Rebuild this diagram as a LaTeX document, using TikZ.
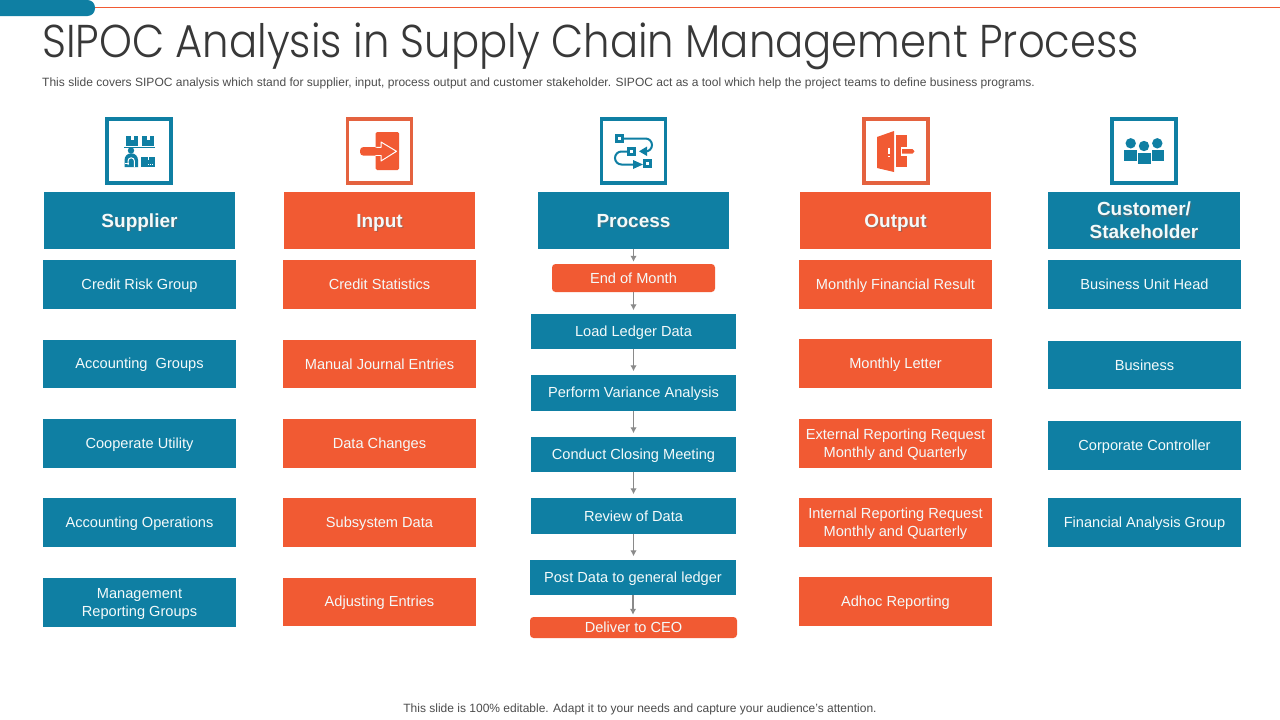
\documentclass[tikz,border=0pt]{standalone}
\usepackage{fontspec}
\setmainfont{Liberation Sans}
\newfontfamily\titlefont[FakeStretch=0.908]{Poppins Light}
\usetikzlibrary{arrows.meta}
\definecolor{teal}{HTML}{0F7FA3}
\definecolor{orng}{HTML}{F15A33}
\definecolor{iconor}{HTML}{E4623F}
\definecolor{txt}{HTML}{F4FAFA}
\definecolor{conn}{HTML}{8A8A8A}
\newcommand{\tst}{\rule[-3pt]{0pt}{16pt}}
\newcommand{\hst}{\rule[-3.4pt]{0pt}{20.4pt}}
\tikzset{
 x=1pt,y=-1pt,
 tbox/.style={fill=teal,text=txt,align=center,inner sep=0pt,font=\fontsize{14.6}{18}\selectfont},
 obox/.style={fill=orng,text=txt,align=center,inner sep=0pt,font=\fontsize{14.6}{18}\selectfont},
 rbox/.style={obox,rounded corners=3.5pt},
 hd/.style={text=txt,align=center,inner sep=0pt,font=\fontsize{19}{23}\selectfont\bfseries},
 frameT/.style={draw=teal,line width=3.6pt,fill=white,minimum size=64pt,inner sep=0pt},
 frameO/.style={draw=iconor,line width=3.6pt,fill=white,minimum size=64pt,inner sep=0pt},
 link/.style={draw=conn,line width=1.5pt,shorten >=3.5pt,-{Latex[length=6pt,width=6.5pt]}},
}
% #1 style, #2 name, #3 x0, #4 y0, #5 x1, #6 y1, #7 text
\newcommand{\bx}[7]{\node[#1,minimum width=#5pt-#3pt,minimum height=#6pt-#4pt] (#2) at ({(#3+#5)/2},{(#4+#6)/2}) {\tst#7\tst};}
\newcommand{\hdr}[7]{%
 \fill[#1] (#3,#4) rectangle (#5,#6);
 \node[hd,text=black!60,opacity=.5] at ({(#3+#5)/2+1.2},{(#4+#6)/2+1.2}) {\hst#7\hst};
 \node[hd,minimum width=#5pt-#3pt,minimum height=#6pt-#4pt] (#2) at ({(#3+#5)/2},{(#4+#6)/2}) {\hst#7\hst};}
\begin{document}
\begin{tikzpicture}
\useasboundingbox (0,0) rectangle (1280,720);
% top bar
\fill[orng] (90,7) rectangle (1280,8.2);
\begin{scope}
\clip (0,0) rectangle (100,20);
\fill[teal,rounded corners=7.5pt] (-20,0) rectangle (95,16);
\end{scope}
\node[anchor=west,inner sep=0pt,text=black!78,font=\titlefont\fontsize{46}{50}\selectfont] (title) at (42,46) {SIPOC Analysis in Supply Chain Management Process};
\node[anchor=west,inner sep=0pt,text=black!70,font=\fontsize{12.03}{14}\selectfont] (sub) at (42,83) {This slide covers SIPOC analysis which stand for supplier, input, process output and customer stakeholder. SIPOC act as a tool which help the project teams to define business programs.};
\node[inner sep=0pt,text=black!70,font=\fontsize{12}{14}\selectfont] (foot) at (640,709) {This slide is 100\% editable. Adapt it to your needs and capture your audience's attention.};
% icon frames
\node[frameT] (f1) at (139,151) {};
\node[frameO] (f2) at (379.5,151) {};
\node[frameT] (f3) at (633.5,151) {};
\node[frameO] (f4) at (896,151) {};
\node[frameT] (f5) at (1144,151) {};
% icon 1 supplier
\fill[teal] (126,136) rectangle (138,146);
\fill[teal] (142,136) rectangle (154,146);
\fill[white] (130.5,136) rectangle (133.5,140);
\fill[white] (146.5,136) rectangle (149.5,140);
\draw[teal,line width=1pt] (124,147) -- (155,147);
\fill[teal] (131,150.5) circle (3.2);
\fill[teal] (124.5,167) -- (124.5,160) arc[start angle=180,end angle=360,radius=6.75] -- (138,167) -- cycle;
\draw[white,line width=1pt] (128,165) -- (128,161) arc[start angle=180,end angle=360,radius=3.2] -- (134.4,167);
\fill[white] (124.5,162.5) rectangle (129,163.3);
\fill[teal] (141,157) rectangle (155,167);
\fill[white] (147.5,157) rectangle (148.7,160);
\draw[white,line width=.8pt,dash pattern=on 1pt off 1pt] (148,164) -- (154,164);
% icon 2 input
\fill[orng,rounded corners=1.5pt] (375.7,132) rectangle (399,170);
\draw[white,line width=1pt,fill=orng,line join=round] (375,147.3) -- (381,147.3) -- (381,142) -- (396.5,151.3) -- (381,161) -- (381,155.3) -- (375,155.3);
\fill[orng,rounded corners=3.5pt] (360,147) rectangle (378,155.7);
\fill[orng] (372,147.8) rectangle (381.5,154.8);
% icon 3 process
\draw[teal,line width=2pt] (624,138.5) -- (645.5,138.5) arc[start angle=-90,end angle=90,radius=6.5] -- (644,151.5);
\draw[teal,line width=2pt] (627,151.5) -- (621.5,151.5) arc[start angle=-90,end angle=-270,radius=6.5] -- (636,164.5);
\fill[teal] (633,160) -- (643,164.5) -- (633,169) -- cycle;
\fill[teal] (639,151.3) -- (647,146.5) -- (647,156) -- cycle;
\fill[teal] (615,134) rectangle (624,143);
\fill[white] (618,136.8) rectangle (621.2,140.2);
\fill[teal] (627,147) rectangle (636,156);
\fill[white] (630,149.8) rectangle (633.2,153.2);
\fill[teal] (643,159) rectangle (652,168);
\fill[white] (646,161.8) rectangle (649.2,165.2);
% icon 4 output
\fill[orng] (877,137) -- (894,131) -- (894,172) -- (877,168) -- cycle;
\fill[orng] (896,135) rectangle (906.7,167);
\fill[white] (888.4,148) rectangle (889.6,154);
\fill[white] (888.4,155.5) rectangle (889.6,157);
\fill[white] (900.5,147) rectangle (906.7,155.5);
\fill[orng] (902,149) -- (912.5,149) -- (914.5,151.3) -- (912.5,153.7) -- (902,153.7) -- cycle;
% icon 5 customer
\fill[teal] (1130.7,143.3) circle (5.2);
\fill[teal] (1157.3,143.3) circle (5.2);
\fill[teal] (1124,150) rectangle (1136.5,161);
\fill[teal] (1152,150) rectangle (1164,161);
\fill[teal] (1144,146) circle (5.2);
\fill[teal] (1137.7,153) rectangle (1150.7,164);
% headers
\hdr{teal}{h1}{44}{192}{235}{249}{Supplier}
\hdr{orng}{h2}{284}{192}{475}{249}{Input}
\hdr{teal}{h3}{538}{192}{729}{249}{Process}
\hdr{orng}{h4}{800}{192}{991}{249}{Output}
\hdr{teal}{h5}{1048}{192}{1240}{249}{Customer/\\Stakeholder}
% supplier
\bx{tbox}{s1}{43}{260}{236}{309}{Credit Risk Group}
\bx{tbox}{s2}{43}{340}{236}{388}{Accounting~ Groups}
\bx{tbox}{s3}{43}{419}{236}{468}{Cooperate Utility}
\bx{tbox}{s4}{43}{498}{236}{547}{Accounting Operations}
\bx{tbox}{s5}{43}{578}{236}{627}{Management\\Reporting Groups}
% input
\bx{obox}{i1}{283}{260}{476}{309}{Credit Statistics}
\bx{obox}{i2}{283}{340}{476}{388}{Manual Journal Entries}
\bx{obox}{i3}{283}{419}{476}{468}{Data Changes}
\bx{obox}{i4}{283}{498}{476}{547}{Subsystem Data}
\bx{obox}{i5}{283}{578}{476}{626}{Adjusting Entries}
% process
\bx{rbox}{p0}{552}{264}{715}{292}{End of Month}
\bx{tbox}{p1}{531}{314}{736}{349}{Load Ledger Data}
\bx{tbox}{p2}{531}{375}{736}{411}{Perform Variance Analysis}
\bx{tbox}{p3}{531}{437}{736}{472}{Conduct Closing Meeting}
\bx{tbox}{p4}{531}{498}{736}{534}{Review of Data}
\bx{tbox}{p5}{530}{560}{736}{595}{Post Data to general ledger}
\bx{rbox}{p6}{530}{617}{737}{638}{Deliver to CEO}
% output
\bx{obox}{o1}{799}{260}{992}{309}{Monthly Financial Result}
\bx{obox}{o2}{799}{339}{992}{388}{Monthly Letter}
\bx{obox}{o3}{799}{419}{992}{468}{External Reporting Request\\Monthly and Quarterly}
\bx{obox}{o4}{799}{498}{992}{547}{Internal Reporting Request\\Monthly and Quarterly}
\bx{obox}{o5}{799}{577}{992}{626}{Adhoc Reporting}
% customer
\bx{tbox}{c1}{1048}{260}{1241}{309}{Business Unit Head}
\bx{tbox}{c2}{1048}{341}{1241}{389}{Business}
\bx{tbox}{c3}{1048}{421}{1241}{470}{Corporate Controller}
\bx{tbox}{c4}{1048}{498}{1241}{547}{Financial Analysis Group}
% connectors
\draw[link,shorten >=2pt] (h3.south -| p0.north) -- (p0.north);
\draw[link] (p0.south) -- (p0.south |- p1.north);
\draw[link] (p1.south) -- (p1.south |- p2.north);
\draw[link] (p2.south) -- (p2.south |- p3.north);
\draw[link] (p3.south) -- (p3.south |- p4.north);
\draw[link] (p4.south) -- (p4.south |- p5.north);
\draw[link,shorten >=2pt] (p5.south) -- (p5.south |- p6.north);
\end{tikzpicture}
\end{document}
